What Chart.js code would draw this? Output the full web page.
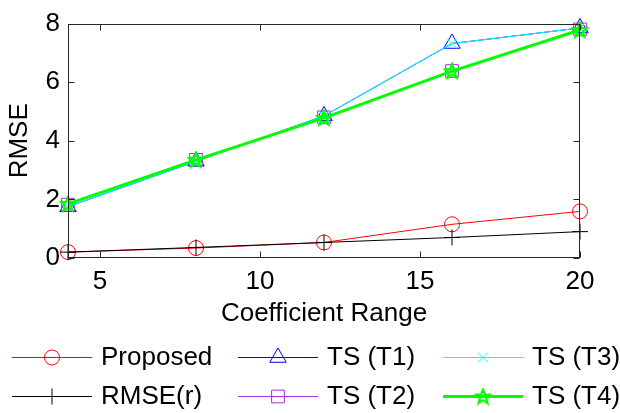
<!DOCTYPE html>
<html>
<head>
<meta charset="utf-8">
<title>RMSE vs Coefficient Range</title>
<script src="https://cdn.jsdelivr.net/npm/chart.js@4/dist/chart.umd.min.js"></script>
<style>
  html, body { margin: 0; padding: 0; background: #fff; }
  #wrap { width: 620px; height: 413px; }
</style>
</head>
<body>
<div id="wrap"><canvas id="rmseChart" width="620" height="413"></canvas></div>
<script>
// x values (coefficient range) and RMSE per method
const range = [4, 8, 12, 16, 20];
const proposed = [0.20, 0.34, 0.53, 1.15, 1.59];
const rmseR = [0.20, 0.36, 0.53, 0.70, 0.90];
const tsT1 = [1.75, 3.30, 4.85, 7.32, 7.85];
const tsT2 = [1.82, 3.35, 4.80, 6.38, 7.80];
const tsT3 = [1.75, 3.30, 4.85, 7.32, 7.85];
const tsT4 = [1.85, 3.35, 4.78, 6.38, 7.78];

const xTicks = [5, 10, 15, 20];
const yTicks = [0, 2, 4, 6, 8];

const FONT = "'Liberation Sans', Arial, sans-serif";
const FSIZE = 26;

// pentagram marker (Chart.js has no five-point star)
const makeStar = (color, size) => {
  const c = document.createElement("canvas");
  c.width = size; c.height = size;
  const g = c.getContext("2d");
  const cx = size / 2, cy = size / 2 + 0.5, R = size / 2 - 1.5, r = R * 0.42;
  g.beginPath();
  for (let i = 0; i < 10; i++) {
    const a = -Math.PI / 2 + i * Math.PI / 5;
    const rad = i % 2 === 0 ? R : r;
    g.lineTo(cx + rad * Math.cos(a), cy + rad * Math.sin(a));
  }
  g.closePath();
  g.strokeStyle = color;
  g.lineWidth = 2.2;
  g.stroke();
  return c;
};
const star = makeStar("#00ff00", 18);

const toXY = (vals) => vals.map((v, i) => ({ x: range[i], y: v }));

const series = [
  { label: "Proposed", data: proposed, color: "#ff0000", style: "circle", r: 7.5, width: 1, order: 6 },
  { label: "RMSE(r)", data: rmseR, color: "#000000", style: "cross", r: 8, width: 1, order: 5 },
  { label: "TS (T1)", data: tsT1, color: "#0000ff", style: "triangle", r: 9.5, width: 1, order: 4 },
  { label: "TS (T2)", data: tsT2, color: "#a030e0", style: "rect", r: 9, width: 1, order: 3 },
  { label: "TS (T3)", data: tsT3, color: "#00ffff", style: "crossRot", r: 7, width: 1, order: 2 },
  { label: "TS (T4)", data: tsT4, color: "#00ff00", style: star, r: 9, width: 3, order: 1 },
];

// MATLAB-like box with inward ticks on all four sides
const axesBox = {
  id: "axesBox",
  afterDatasetsDraw(chart) {
    const { ctx, chartArea: a, scales } = chart;
    const L = Math.round(a.left) + 0.5, R = Math.round(a.right) - 0.5;
    const T = Math.round(a.top) + 0.5, B = Math.round(a.bottom) - 0.5;
    ctx.save();
    ctx.strokeStyle = "#262626";
    ctx.lineWidth = 1;
    ctx.strokeRect(L, T, R - L, B - T);
    ctx.beginPath();
    xTicks.forEach((v) => {
      const px = Math.round(scales.x.getPixelForValue(v)) + 0.5;
      ctx.moveTo(px, B); ctx.lineTo(px, B - 6);
      ctx.moveTo(px, T); ctx.lineTo(px, T + 6);
    });
    yTicks.forEach((v) => {
      const py = Math.round(scales.y.getPixelForValue(v)) + 0.5;
      ctx.moveTo(L, py); ctx.lineTo(L + 6, py);
      ctx.moveTo(R, py); ctx.lineTo(R - 6, py);
    });
    ctx.stroke();
    ctx.restore();
  },
};

// legend in a 3 x 2 grid under the axes
const gridLegend = {
  id: "gridLegend",
  afterDraw(chart) {
    const { ctx } = chart;
    const cols = [12, 238, 443];
    const rows = [357, 396];
    const lineLen = 80;
    ctx.save();
    series.forEach((s, i) => {
      const x0 = cols[Math.floor(i / 2)];
      const y = rows[i % 2];
      ctx.strokeStyle = s.color;
      ctx.lineWidth = s.width;
      ctx.beginPath();
      ctx.moveTo(x0, y + 0.5);
      ctx.lineTo(x0 + lineLen, y + 0.5);
      ctx.stroke();
      ctx.lineWidth = 1;
      ctx.fillStyle = "rgba(0,0,0,0)";
      Chart.helpers.drawPoint(ctx, { pointStyle: s.style, radius: s.r, borderWidth: 1, rotation: 0 },
        x0 + lineLen / 2, y + 0.5);
      ctx.fillStyle = "#000";
      ctx.font = FSIZE + "px " + FONT;
      ctx.textBaseline = "middle";
      ctx.textAlign = "left";
      ctx.fillText(s.label, x0 + lineLen + 9, y + 1);
    });
    ctx.restore();
  },
};

new Chart(document.getElementById("rmseChart").getContext("2d"), {
  type: "line",
  data: {
    datasets: series.map((s) => ({
      label: s.label,
      data: toXY(s.data),
      borderColor: s.color,
      backgroundColor: "rgba(0,0,0,0)",
      borderWidth: s.width,
      pointStyle: s.style,
      pointRadius: s.r,
      pointBorderWidth: 1,
      pointBorderColor: s.color,
      pointBackgroundColor: "rgba(0,0,0,0)",
      tension: 0,
      clip: false,
      order: s.order,
    })),
  },
  options: {
    responsive: false,
    animation: false,
    events: [],
    layout: { padding: { left: 0, top: 16, right: 40, bottom: 81 } },
    plugins: {
      legend: { display: false },
      tooltip: { enabled: false },
    },
    scales: {
      x: {
        type: "linear",
        min: 4,
        max: 20,
        afterBuildTicks: (scale) => { scale.ticks = xTicks.map((v) => ({ value: v })); },
        afterFit: (scale) => { scale.height = 74; },
        grid: { display: false, drawTicks: false },
        border: { display: false },
        ticks: { color: "#000", font: { family: FONT, size: FSIZE }, padding: 8, maxRotation: 0 },
        title: {
          display: true,
          text: "Coefficient Range",
          color: "#000",
          font: { family: FONT, size: FSIZE },
          padding: { top: 0, bottom: 3 },
        },
      },
      y: {
        min: 0,
        max: 8,
        afterBuildTicks: (scale) => { scale.ticks = yTicks.map((v) => ({ value: v })); },
        afterFit: (scale) => { scale.width = 68; },
        grid: { display: false, drawTicks: false },
        border: { display: false },
        ticks: { color: "#000", font: { family: FONT, size: FSIZE }, padding: 8 },
        title: {
          display: true,
          text: "RMSE",
          color: "#000",
          font: { family: FONT, size: FSIZE },
          padding: { top: 4, bottom: 0 },
        },
      },
    },
  },
  plugins: [axesBox, gridLegend],
});
</script>
</body>
</html>
